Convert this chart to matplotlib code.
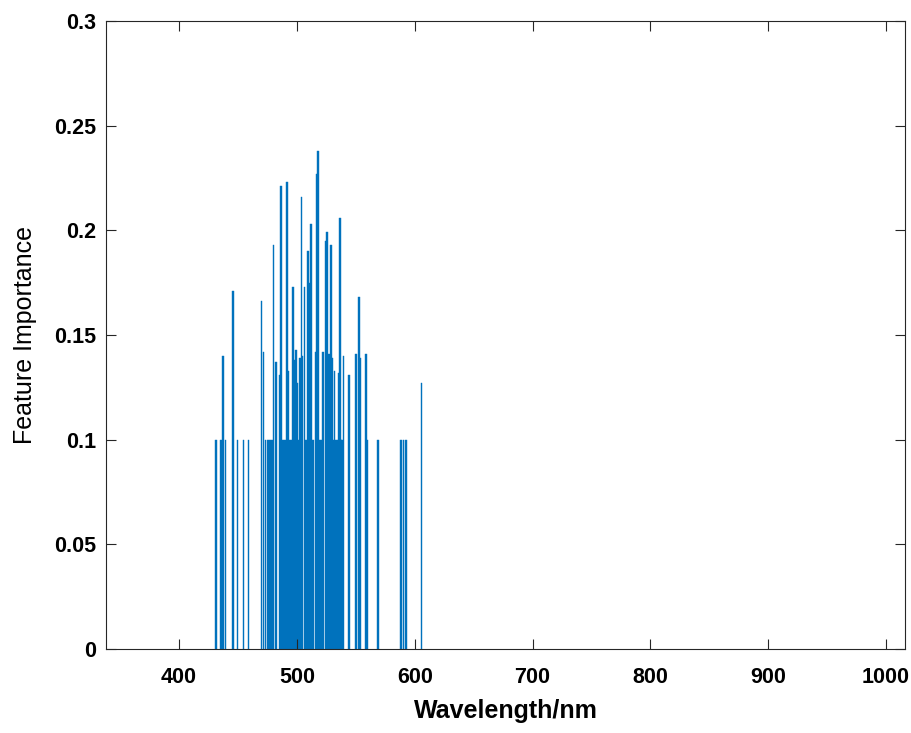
"""Feature importance per wavelength, MATLAB-style bar chart."""

import matplotlib
matplotlib.use("Agg")
import matplotlib.pyplot as plt

# ---------------------------------------------------------------------------
# data (only non-zero bars)
# ---------------------------------------------------------------------------

wavelengths = [
    431.4, 435.7, 437.2, 439.4, 445.8, 449.7, 454.6, 458.9,
    470.0, 471.5, 473.3, 475.3, 477.3, 478.9, 480.0, 482.3, 485.2, 486.3,
    488.3, 489.8, 491.4, 492.3, 494.0, 495.3, 496.6, 497.7, 499.4, 500.6,
    501.7, 502.8, 504.0, 504.9, 506.3, 507.7, 509.2, 510.1, 511.0, 512.0,
    513.7, 515.7, 516.6, 518.0, 519.5, 520.9, 522.3, 524.3, 525.4, 526.3,
    527.2, 528.1, 529.1, 530.0, 531.0, 532.0, 533.4, 534.6, 535.7, 536.6,
    537.6, 538.5, 539.4,
    544.3, 550.3, 552.9, 553.9, 558.8, 560.0, 568.8,
    588.5, 590.6, 592.8, 605.7,
]

importance = [
    0.100, 0.100, 0.140, 0.100, 0.171, 0.100, 0.100, 0.100,
    0.166, 0.142, 0.100, 0.100, 0.100, 0.100, 0.193, 0.137, 0.131, 0.221,
    0.100, 0.100, 0.223, 0.133, 0.100, 0.100, 0.173, 0.138, 0.143, 0.127,
    0.100, 0.139, 0.216, 0.140, 0.173, 0.100, 0.190, 0.175, 0.100, 0.203,
    0.100, 0.142, 0.227, 0.238, 0.100, 0.100, 0.142, 0.195, 0.199, 0.100,
    0.141, 0.136, 0.193, 0.139, 0.100, 0.133, 0.100, 0.100, 0.132, 0.206,
    0.100, 0.100, 0.140,
    0.131, 0.141, 0.168, 0.139, 0.141, 0.100, 0.100,
    0.100, 0.100, 0.100, 0.127,
]

y_ticks = [0, 0.05, 0.1, 0.15, 0.2, 0.25, 0.3]
y_tick_labels = ["0", "0.05", "0.1", "0.15", "0.2", "0.25", "0.3"]
x_ticks = [400, 500, 600, 700, 800, 900, 1000]

BAR_COLOR = "#0072BD"
AXIS_COLOR = "#262626"

plt.rcParams["font.family"] = ["Liberation Sans", "DejaVu Sans"]

fig = plt.figure(figsize=(9.12, 7.33), dpi=100)
ax = fig.add_axes([0.1162, 0.1146, 0.8761, 0.8568])

ax.bar(wavelengths, importance, width=1.35, color=BAR_COLOR,
       edgecolor=BAR_COLOR, linewidth=0.3)

ax.set_xlim(338, 1016)
ax.set_ylim(0, 0.3)
ax.set_xticks(x_ticks)
ax.set_xticklabels([str(t) for t in x_ticks], fontsize=15.5, fontweight="bold")
ax.set_yticks(y_ticks)
ax.set_yticklabels(y_tick_labels, fontsize=15.5, fontweight="bold")

ax.tick_params(direction="in", length=7, width=0.8, color=AXIS_COLOR,
               top=True, right=True, labelcolor="black")
ax.tick_params(axis="x", pad=13)
ax.tick_params(axis="y", pad=7)
for side in ax.spines.values():
    side.set_color(AXIS_COLOR)
    side.set_linewidth(0.8)

ax.set_xlabel("Wavelength/nm", fontsize=18, fontweight="bold", labelpad=8)
ax.set_ylabel("Feature Importance", fontsize=18, labelpad=12)

fig.savefig("out.png", dpi=100)
